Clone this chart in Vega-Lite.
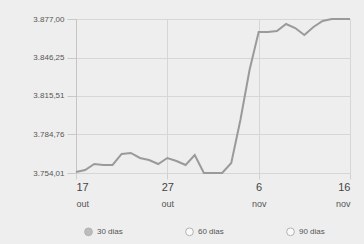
{
  "$schema": "https://vega.github.io/schema/vega-lite/v6.json",
  "width": 274,
  "height": 154,
  "autosize": "none",
  "padding": {"left": 76, "top": 19, "right": 14, "bottom": 71},
  "background": "#eeeeee",
  "config": {"view": {"stroke": null}, "font": "Liberation Sans"},
  "layer": [
    {
      "data": {"values": [
        {"date": "2023/10/17", "v": 3754.8},
        {"date": "2023/10/18", "v": 3756.4},
        {"date": "2023/10/19", "v": 3761.2},
        {"date": "2023/10/20", "v": 3760.4},
        {"date": "2023/10/21", "v": 3760.4},
        {"date": "2023/10/22", "v": 3769.2},
        {"date": "2023/10/23", "v": 3770.0},
        {"date": "2023/10/24", "v": 3766.0},
        {"date": "2023/10/25", "v": 3764.4},
        {"date": "2023/10/26", "v": 3761.2},
        {"date": "2023/10/27", "v": 3766.0},
        {"date": "2023/10/28", "v": 3763.6},
        {"date": "2023/10/29", "v": 3760.4},
        {"date": "2023/10/30", "v": 3768.4},
        {"date": "2023/10/31", "v": 3754.01},
        {"date": "2023/11/01", "v": 3754.01},
        {"date": "2023/11/02", "v": 3754.01},
        {"date": "2023/11/03", "v": 3762.0},
        {"date": "2023/11/04", "v": 3796.3},
        {"date": "2023/11/05", "v": 3836.3},
        {"date": "2023/11/06", "v": 3866.6},
        {"date": "2023/11/07", "v": 3866.6},
        {"date": "2023/11/08", "v": 3867.4},
        {"date": "2023/11/09", "v": 3873.0},
        {"date": "2023/11/10", "v": 3869.8},
        {"date": "2023/11/11", "v": 3864.2},
        {"date": "2023/11/12", "v": 3870.6},
        {"date": "2023/11/13", "v": 3875.4},
        {"date": "2023/11/14", "v": 3877.0},
        {"date": "2023/11/15", "v": 3877.0},
        {"date": "2023/11/16", "v": 3877.0}
      ]},
      "mark": {"type": "line", "color": "#9a9a9a", "strokeWidth": 2},
      "encoding": {
        "x": {
          "field": "date", "type": "temporal",
          "scale": {"domain": [{"year": 2023, "month": 10, "date": 17}, {"year": 2023, "month": 11, "date": 16}]},
          "axis": {
            "title": null,
            "values": [{"year": 2023, "month": 10, "date": 17}, {"year": 2023, "month": 10, "date": 27}, {"year": 2023, "month": 11, "date": 6}, {"year": 2023, "month": 11, "date": 16}],
            "labelExpr": "timeFormat(datum.value, '%-d')",
            "grid": true, "gridColor": "#d6d6d6",
            "domain": false,
            "tickColor": "#d0d0d0", "tickSize": 6,
            "labelFontSize": 11, "labelColor": "#444", "labelPadding": 2
          }
        },
        "y": {
          "field": "v", "type": "quantitative",
          "scale": {"domain": [3754.01, 3877], "nice": false, "zero": false},
          "axis": {
            "title": null,
            "values": [3754.01, 3784.76, 3815.51, 3846.25, 3877.0],
            "labelExpr": "replace(replace(replace(format(datum.value, ',.2f'), ',', '_'), '.', ','), '_', '.')",
            "grid": true, "gridColor": "#d6d6d6",
            "domainColor": "#c4c4c4",
            "tickColor": "#c8c8c8", "tickSize": 9,
            "labelFontSize": 8, "labelColor": "#555", "labelPadding": 3
          }
        }
      }
    },
    {
      "data": {"values": [{"p": "30 dias"}, {"p": "60 dias"}, {"p": "90 dias"}]},
      "transform": [{"filter": "datum.p == 'none'"}],
      "mark": {"type": "point", "filled": true, "stroke": "#999999", "strokeWidth": 1},
      "encoding": {
        "x": {
          "field": "date", "type": "temporal",
          "scale": {"domain": [{"year": 2023, "month": 10, "date": 17}, {"year": 2023, "month": 11, "date": 16}]},
          "axis": {
            "title": null, "orient": "bottom",
            "values": [{"year": 2023, "month": 10, "date": 17}, {"year": 2023, "month": 10, "date": 27}, {"year": 2023, "month": 11, "date": 6}, {"year": 2023, "month": 11, "date": 16}],
            "labelExpr": "['jan','fev','mar','abr','mai','jun','jul','ago','set','out','nov','dez'][month(datum.value)]",
            "grid": false, "domain": false, "ticks": false,
            "labelFontSize": 9, "labelColor": "#555", "labelPadding": 26
          }
        },
        "fill": {
          "field": "p", "type": "nominal",
          "scale": {"domain": ["30 dias", "60 dias", "90 dias"], "range": ["#a8a8a8", "#ffffff", "#ffffff"]},
          "legend": {
            "title": null, "orient": "none", "direction": "horizontal",
            "legendX": 8, "legendY": 208,
            "symbolType": "circle", "symbolSize": 60,
            "symbolStrokeColor": "#999999", "symbolStrokeWidth": 1,
            "labelFontSize": 8, "labelColor": "#555", "labelOffset": 4,
            "columnPadding": 60
          }
        }
      }
    }
  ],
  "resolve": {"axis": {"x": "independent"}}
}
